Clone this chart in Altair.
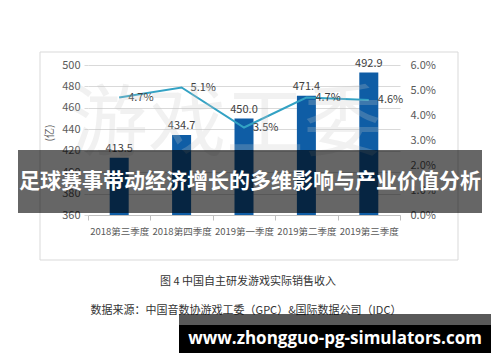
import altair as alt
import pandas as pd

# Quarterly revenue of domestically developed games (100 million yuan) and growth rate
quarters = ["2018第三季度", "2018第四季度", "2019第一季度", "2019第二季度", "2019第三季度"]
revenue = [413.5, 434.7, 450.0, 471.4, 492.9]
growth = [0.047, 0.051, 0.035, 0.047, 0.046]
growth_labels = ["4.7%", "5.1%", "3.5%", "4.7%", "4.6%"]
left_ticks = [360, 380, 400, 420, 440, 460, 480, 500]
right_ticks = [0.0, 0.01, 0.02, 0.03, 0.04, 0.05, 0.06]

FONT = "Noto Sans CJK SC"
BAR = "#0f5da5"
LINE = "#33a2c4"
TXT = "#404040"

df = pd.DataFrame({
    "quarter": quarters,
    "revenue": revenue,
    "rev_label": [f"{v:.1f}" for v in revenue],
    "growth": growth,
    "growth_label": growth_labels,
})

x_enc = alt.X(
    "quarter:N", sort=quarters, title=None,
    scale=alt.Scale(paddingInner=0, paddingOuter=0),
    axis=alt.Axis(labelAngle=0, labelFontSize=9.5, labelColor="#595959", labelFont=FONT,
                  labelOverlap=False, labelLimit=200, labelPadding=6,
                  domainColor="#bfbfbf", tickColor="#bfbfbf", tickSize=5,
                  tickBand="extent", grid=False),
)
y_left = alt.Y(
    "revenue:Q", title=None,
    scale=alt.Scale(domain=[360, 500], nice=False, zero=False),
    axis=alt.Axis(values=left_ticks, orient="left", labelFontSize=11, labelColor="#595959",
                  labelFont=FONT, labelOverlap=False, labelBound=False, domain=False,
                  ticks=True, tickSize=4, tickColor="#d9d9d9", gridColor="#d9d9d9",
                  labelPadding=4),
)
y_right = alt.Y(
    "growth:Q", title=None,
    scale=alt.Scale(domain=[0, 0.06], nice=False),
    axis=alt.Axis(values=right_ticks, orient="right", format=".1%", labelFontSize=11,
                  labelColor="#595959", labelFont=FONT, labelOverlap=False, labelBound=False,
                  domain=False, ticks=False, grid=False, labelPadding=10),
)

base = alt.Chart(df)


def single(text):
    return alt.Chart(pd.DataFrame({"t": [text]}))


# outer frame of the figure
frame = single("").mark_rect(fill=None, stroke="#d9d9d9", strokeWidth=1).encode(
    x=alt.value(-48), x2=alt.value(370), y=alt.value(-13), y2=alt.value(195))

bars = base.mark_bar(size=19, color=BAR, clip=True).encode(x=x_enc, y=y_left)
bar_text = base.mark_text(dy=-4, baseline="bottom", fontSize=11, color=TXT, font=FONT).encode(
    x=x_enc, y=y_left, text="rev_label:N")
bar_layer = alt.layer(bars, bar_text)

line = base.mark_line(color=LINE, strokeWidth=2).encode(x=x_enc, y=y_right)
line_text = base.mark_text(align="left", dx=9, baseline="middle", fontSize=11, color=TXT, font=FONT).encode(
    x=x_enc, y=y_right, text="growth_label:N")
line_layer = alt.layer(line, line_text)

# faint watermark across the plot
watermark = single("游戏工委").mark_text(fontSize=78, font=FONT, color="#c8c8c8", opacity=0.25,
                                      align="center", baseline="middle").encode(
    text="t:N", x=alt.value(138), y=alt.value(62))

y_title = single("(亿)").mark_text(angle=270, fontSize=10, font=FONT, color="#595959").encode(
    text="t:N", x=alt.value(-38), y=alt.value(68))

caption = single("图 4  中国自主研发游戏实际销售收入").mark_text(fontSize=11, font=FONT, color="#333333").encode(
    text="t:N", x=alt.value(160), y=alt.value(217))
source = single("数据来源：中国音数协游戏工委（GPC）&国际数据公司（IDC）").mark_text(
    fontSize=11, font=FONT, color="#333333").encode(text="t:N", x=alt.value(158), y=alt.value(246))

banner = single("").mark_rect(color="black", opacity=0.6).encode(
    x=alt.value(-70), x2=alt.value(394), y=alt.value(85), y2=alt.value(148))
banner_text = single("足球赛事带动经济增长的多维影响与产业价值分析").mark_text(
    fontSize=21, fontWeight="bold", font=FONT, color="white").encode(
    text="t:N", x=alt.value(162), y=alt.value(117))

url_top = single("").mark_rect(color="black", opacity=0.65).encode(
    x=alt.value(91), x2=alt.value(403), y=alt.value(249), y2=alt.value(260))
url_box = single("").mark_rect(color="black").encode(
    x=alt.value(91), x2=alt.value(403), y=alt.value(260), y2=alt.value(288))
url_text = single("www.zhongguo-pg-simulators.com").mark_text(
    fontSize=17, fontWeight="bold", font="Open Sans", color="white").encode(
    text="t:N", x=alt.value(247), y=alt.value(274))

chart = alt.layer(
    frame, bar_layer, line_layer, watermark, y_title, caption, source,
    banner, banner_text, url_top, url_box, url_text,
).resolve_scale(y="independent").properties(
    width=312, height=150,
    autosize=alt.AutoSizeParams(type="none"),
    padding={"left": 88, "top": 65, "right": 100, "bottom": 147},
    background="white",
).configure_view(stroke=None)

chart.save("out.html", embed_options={"renderer": "svg", "actions": False})
